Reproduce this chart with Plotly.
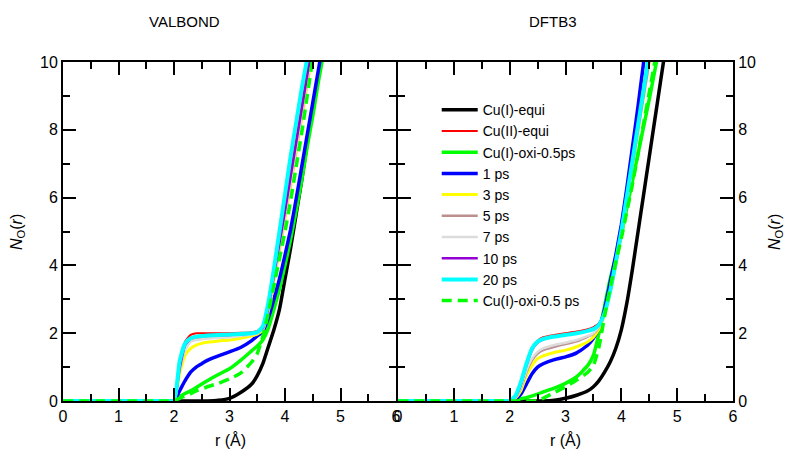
import plotly.graph_objects as go

# common r grid (Å)
r = [0.0, 1.9, 2.0, 2.1, 2.2, 2.3, 2.4, 2.5, 2.6, 2.8, 3.0, 3.2, 3.4, 3.5, 3.6,
     3.7, 3.8, 3.9, 4.0, 4.1, 4.2, 4.3, 4.4, 4.5, 4.6, 4.7, 4.8]

series_names = ["Cu(I)-equi", "Cu(II)-equi", "Cu(I)-oxi-0.5ps", "1 ps", "3 ps",
                "5 ps", "7 ps", "10 ps", "20 ps", "Cu(I)-oxi-0.5 ps"]

# VALBOND panel
v_cu1_equi = [0, 0, 0, 0, 0, 0, 0, 0, 0, 0.02, 0.08, 0.25, 0.5, 0.75, 1.1, 1.6, 2.1, 2.7, 3.6, 4.5, 5.5, 6.5, 7.6, 8.6, 9.6, 10.6, 11.6]
v_cu2_equi = [0, 0, 0, 1.0, 1.75, 1.95, 2.0, 2.0, 2.0, 2.0, 2.0, 2.01, 2.03, 2.06, 2.2, 2.75, 3.7, 4.7, 5.7, 6.7, 7.7, 8.7, 9.7, 10.7, 11.7, 12.7, 13.7]
v_oxi = [0, 0, 0, 0.13, 0.22, 0.3, 0.4, 0.5, 0.6, 0.78, 0.95, 1.2, 1.48, 1.62, 1.8, 2.15, 2.7, 3.3, 4.0, 4.75, 5.6, 6.5, 7.5, 8.4, 9.4, 10.3, 11.2]
v_1ps = [0, 0, 0, 0.3, 0.6, 0.85, 1.0, 1.1, 1.2, 1.33, 1.45, 1.58, 1.78, 1.92, 2.05, 2.45, 3.0, 3.6, 4.3, 5.05, 5.95, 6.9, 7.85, 8.8, 9.75, 10.7, 11.6]
v_3ps = [0, 0, 0, 0.8, 1.35, 1.55, 1.65, 1.7, 1.73, 1.77, 1.8, 1.85, 1.92, 1.97, 2.1, 2.65, 3.5, 4.4, 5.35, 6.3, 7.3, 8.3, 9.3, 10.3, 11.3, 12.3, 13.3]
v_5ps = [0, 0, 0, 0.9, 1.55, 1.78, 1.83, 1.85, 1.86, 1.88, 1.9, 1.93, 1.97, 2.0, 2.12, 2.7, 3.6, 4.5, 5.45, 6.4, 7.4, 8.4, 9.4, 10.4, 11.4, 12.4, 13.4]
v_7ps = [0, 0, 0, 0.9, 1.5, 1.75, 1.8, 1.82, 1.84, 1.86, 1.88, 1.92, 1.96, 2.0, 2.12, 2.7, 3.6, 4.5, 5.45, 6.4, 7.4, 8.4, 9.4, 10.4, 11.4, 12.4, 13.4]
v_10ps = [0, 0, 0, 0.95, 1.65, 1.85, 1.9, 1.92, 1.93, 1.94, 1.95, 1.97, 2.0, 2.03, 2.15, 2.75, 3.7, 4.65, 5.6, 6.6, 7.6, 8.6, 9.6, 10.6, 11.6, 12.6, 13.6]
v_20ps = [0, 0, 0, 1.15, 1.7, 1.85, 1.9, 1.92, 1.93, 1.95, 1.96, 1.98, 2.0, 2.03, 2.2, 2.9, 3.9, 5.0, 6.1, 7.2, 8.2, 9.2, 10.1, 11.0, 12.0, 13.0, 14.0]
v_oxi_dash = [0, 0, 0, 0.08, 0.15, 0.22, 0.3, 0.35, 0.42, 0.52, 0.65, 0.82, 1.15, 1.4, 1.9, 2.6, 3.4, 4.2, 5.0, 5.9, 6.9, 7.9, 9.0, 10.1, 11.1, 12.1, 13.1]

# DFTB3 panel
d_cu1_equi = [0, 0, 0, 0, 0, 0, 0, 0, 0, 0.02, 0.08, 0.17, 0.3, 0.42, 0.6, 0.85, 1.15, 1.55, 2.1, 2.9, 3.9, 5.0, 6.1, 7.2, 8.3, 9.4, 10.5]
d_cu2_equi = [0, 0, 0, 0.12, 0.5, 1.1, 1.55, 1.78, 1.88, 1.95, 2.0, 2.05, 2.12, 2.18, 2.3, 2.65, 3.3, 4.1, 5.0, 6.0, 7.05, 8.1, 9.1, 10.1, 11.1, 12.1, 13.1]
d_oxi = [0, 0, 0, 0.03, 0.07, 0.1, 0.15, 0.2, 0.27, 0.38, 0.52, 0.72, 1.05, 1.35, 2.0, 2.8, 3.6, 4.25, 4.9, 5.7, 6.5, 7.3, 8.1, 8.9, 9.75, 10.6, 11.4]
d_1ps = [0, 0, 0, 0.05, 0.2, 0.5, 0.8, 1.0, 1.1, 1.22, 1.3, 1.42, 1.65, 1.85, 2.15, 2.7, 3.5, 4.3, 5.2, 6.3, 7.5, 8.7, 10.0, 11.2, 12.4, 13.6, 14.8]
d_3ps = [0, 0, 0, 0.08, 0.3, 0.75, 1.05, 1.25, 1.33, 1.43, 1.5, 1.6, 1.75, 1.88, 2.12, 2.55, 3.2, 4.0, 4.9, 5.9, 6.95, 8.0, 9.0, 10.0, 11.0, 12.0, 13.0]
d_5ps = [0, 0, 0, 0.1, 0.38, 0.85, 1.2, 1.4, 1.5, 1.6, 1.68, 1.76, 1.9, 1.98, 2.18, 2.58, 3.22, 4.0, 4.9, 5.9, 6.95, 8.0, 9.0, 10.0, 11.0, 12.0, 13.0]
d_7ps = [0, 0, 0, 0.1, 0.4, 0.9, 1.25, 1.45, 1.55, 1.65, 1.72, 1.8, 1.92, 2.0, 2.2, 2.6, 3.25, 4.05, 4.95, 5.95, 7.0, 8.05, 9.05, 10.05, 11.0, 12.0, 13.0]
d_10ps = [0, 0, 0, 0.12, 0.48, 1.05, 1.5, 1.72, 1.82, 1.9, 1.95, 2.0, 2.08, 2.14, 2.27, 2.62, 3.27, 4.1, 5.0, 6.0, 7.05, 8.1, 9.1, 10.1, 11.1, 12.1, 13.1]
d_20ps = [0, 0, 0, 0.15, 0.55, 1.1, 1.55, 1.75, 1.83, 1.9, 1.95, 2.0, 2.07, 2.12, 2.25, 2.6, 3.25, 4.1, 5.0, 6.05, 7.1, 8.15, 9.2, 10.25, 11.3, 12.3, 13.3]
d_oxi_dash = [0, 0, 0, 0, 0, 0, 0, 0, 0.08, 0.25, 0.42, 0.62, 0.85, 1.05, 1.6, 2.5, 3.35, 4.1, 4.8, 5.6, 6.4, 7.3, 8.2, 9.1, 10.0, 10.9, 11.8]

colors = ["#000000", "#ff0000", "#00ff00", "#0000ff", "#ffff00",
          "#bc8f8f", "#dcdcdc", "#9400d3", "#00ffff", "#00ff00"]
widths = [3.5, 2, 3.5, 3.5, 3, 2.5, 2.5, 2.5, 4, 3.5]
dashes = ["solid"] * 9 + ["10px,6px"]

valbond = [v_cu1_equi, v_cu2_equi, v_oxi, v_1ps, v_3ps, v_5ps, v_7ps, v_10ps, v_20ps, v_oxi_dash]
dftb3 = [d_cu1_equi, d_cu2_equi, d_oxi, d_1ps, d_3ps, d_5ps, d_7ps, d_10ps, d_20ps, d_oxi_dash]

FONT = "Liberation Sans, Arial, Helvetica, sans-serif"

fig = go.Figure()
for i, name in enumerate(series_names):
    fig.add_trace(go.Scatter(
        x=r, y=valbond[i], mode="lines", name=name, showlegend=False,
        line=dict(color=colors[i], width=widths[i], dash=dashes[i], shape="spline", smoothing=0.5),
        xaxis="x", yaxis="y", hoverinfo="skip"))
for i, name in enumerate(series_names):
    fig.add_trace(go.Scatter(
        x=r, y=dftb3[i], mode="lines", name=name, showlegend=True,
        line=dict(color=colors[i], width=widths[i], dash=dashes[i], shape="spline", smoothing=0.5),
        xaxis="x2", yaxis="y2", hoverinfo="skip"))

common_x = dict(range=[0, 6], dtick=1, tick0=0, ticks="inside", ticklen=13, tickwidth=1.5,
                tickcolor="black", showline=True, linewidth=2, linecolor="black",
                mirror="ticks", showgrid=False, zeroline=False, automargin=False,
                tickfont=dict(size=16, color="black", family=FONT),
                minor=dict(dtick=0.5, ticklen=7, ticks="inside", tickwidth=1.5, tickcolor="black"))
common_y = dict(range=[0, 10], dtick=2, tick0=0, ticks="inside", ticklen=13, tickwidth=1.5,
                tickcolor="black", showline=True, linewidth=2, linecolor="black",
                mirror="ticks", showgrid=False, zeroline=False, automargin=False,
                tickfont=dict(size=16, color="black", family=FONT),
                minor=dict(dtick=1, ticklen=7, ticks="inside", tickwidth=1.5, tickcolor="black"))

# page body has an 8px margin: figure is sized so that the page fits the 800x460 window
split = 333.0 / 670.0   # left panel ends 2px before the right one so the shared frame lines overlap
fig.update_layout(
    width=784, height=444,
    margin=dict(l=55, r=59, t=54, b=51),
    paper_bgcolor="white", plot_bgcolor="white",
    font=dict(family=FONT, color="black"),
    xaxis=dict(domain=[0, split], anchor="y", **common_x),
    xaxis2=dict(domain=[0.5, 1], anchor="y2", **common_x),
    yaxis=dict(domain=[0, 1], anchor="x", side="left", **common_y),
    yaxis2=dict(domain=[0, 1], anchor="x2", side="right", **common_y),
    legend=dict(x=0.5578, y=0.905, xanchor="left", yanchor="top",
                font=dict(size=14, family=FONT, color="black"),
                bgcolor="rgba(0,0,0,0)", borderwidth=0, itemwidth=36,
                tracegroupgap=0),
    showlegend=True,
)

annotations = [
    dict(text="VALBOND", x=(184 - 63) / 670, y=(401 - 22) / 339, xref="paper", yref="paper",
         showarrow=False, font=dict(size=15, family=FONT), xanchor="center", yanchor="middle"),
    dict(text="DFTB3", x=(553 - 63) / 670, y=(401 - 22) / 339, xref="paper", yref="paper",
         showarrow=False, font=dict(size=15, family=FONT), xanchor="center", yanchor="middle"),
    dict(text="r (Å)", x=0.25, y=(401 - 440) / 339, xref="paper", yref="paper",
         showarrow=False, font=dict(size=16, family=FONT), xanchor="center", yanchor="middle"),
    dict(text="r (Å)", x=0.75, y=(401 - 440) / 339, xref="paper", yref="paper",
         showarrow=False, font=dict(size=16, family=FONT), xanchor="center", yanchor="middle"),
    dict(text="<i>N</i><sub>O</sub>(<i>r</i>)", x=(17 - 63) / 670, y=(401 - 232) / 339,
         xref="paper", yref="paper", showarrow=False, textangle=-90,
         font=dict(size=16, family=FONT), xanchor="center", yanchor="middle"),
    dict(text="<i>N</i><sub>O</sub>(<i>r</i>)", x=(775 - 63) / 670, y=(401 - 232) / 339,
         xref="paper", yref="paper", showarrow=False, textangle=-90,
         font=dict(size=16, family=FONT), xanchor="center", yanchor="middle"),
]
fig.update_layout(annotations=annotations)

fig.write_html("out.html")
